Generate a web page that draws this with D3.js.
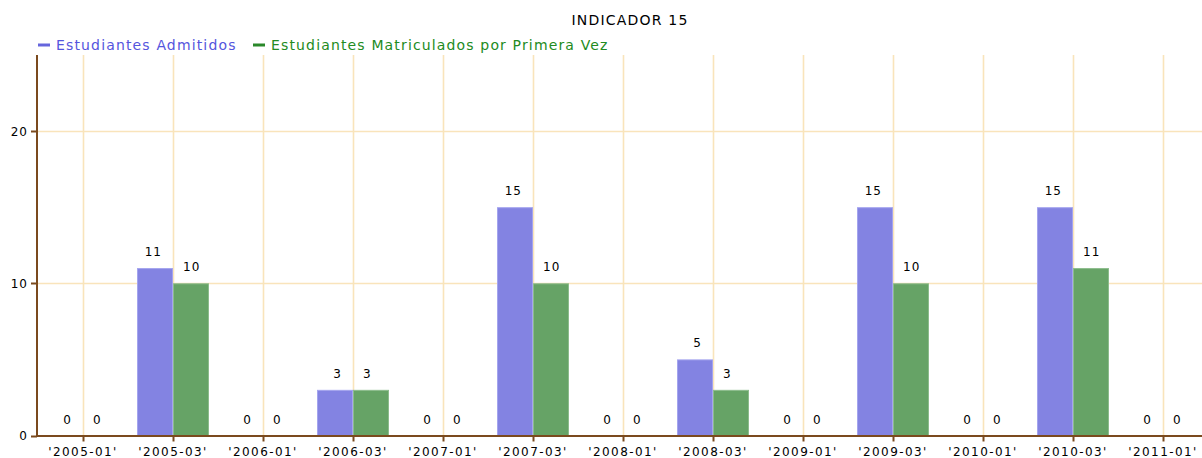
<!DOCTYPE html>
<html><head><meta charset="utf-8">
<script src="https://cdn.jsdelivr.net/npm/d3@7"></script>
<style>body{margin:0;background:#fff}svg{display:block}</style>
</head><body><svg id="c" width="1202" height="458"></svg>
<script>
const categories = ["'2005-01'","'2005-03'","'2006-01'","'2006-03'","'2007-01'","'2007-03'","'2008-01'","'2008-03'","'2009-01'","'2009-03'","'2010-01'","'2010-03'","'2011-01'"];
const admitidos = [0,11,0,3,0,15,0,5,0,15,0,15,0];
const matriculados = [0,10,0,3,0,10,0,3,0,10,0,11,0];
const seriesNames = ["Estudiantes Admitidos","Estudiantes Matriculados por Primera Vez"];
const yTicks = [0,10,20];
const title = "INDICADOR 15";

const svg = d3.select("#c");
const W = 1202, H = 458;
const mLeft = 37, mTop = 55, mBottom = 435.5;
const x = d3.scaleBand().domain(categories).range([mLeft+1, mLeft+1+90*categories.length]).paddingInner(0).paddingOuter(0);
const y = d3.scaleLinear().domain([0,25]).range([mBottom, mTop]);
const barW = 36;
const font = "'DejaVu Sans', Verdana, sans-serif";
const gridColor = "#f9e4bb";

// grid
svg.append("g").selectAll("line").data(yTicks.filter(d=>d>0)).join("line")
  .attr("x1", mLeft).attr("x2", W).attr("y1", d=>Math.round(y(d))+0.5).attr("y2", d=>Math.round(y(d))+0.5)
  .attr("stroke",gridColor).attr("stroke-width",1.6);
svg.append("g").selectAll("line").data(categories).join("line")
  .attr("x1", d=>x(d)+x.bandwidth()/2+0.5).attr("x2", d=>x(d)+x.bandwidth()/2+0.5)
  .attr("y1", mTop).attr("y2", mBottom)
  .attr("stroke",gridColor).attr("stroke-width",1.6);

// bars
const series = [
  {vals: admitidos, fill:"#8383e2", stroke:"#a4a4ee", off:-barW},
  {vals: matriculados, fill:"#66a366", stroke:"#8cbc8c", off:0}
];
series.forEach((s,si)=>{
  const g = svg.append("g");
  g.selectAll("rect").data(categories).join("rect")
    .attr("x", (d)=>x(d)+x.bandwidth()/2+s.off+0.5)
    .attr("width", barW-1)
    .attr("y", (d,i)=>y(s.vals[i])+0.5)
    .attr("height", (d,i)=>Math.max(0, mBottom-y(s.vals[i])-0.5))
    .attr("fill", s.fill)
    .attr("stroke", (d,i)=>s.vals[i]>0 ? s.stroke : "none").attr("stroke-width",1);
  g.selectAll("text").data(categories).join("text")
    .attr("x", d=> si===0 ? x(d)+x.bandwidth()/2-barW/2+7 : x(d)+x.bandwidth()/2+barW/2-8)
    .attr("y", (d,i)=>y(s.vals[i])-12)
    .attr("text-anchor", si===0 ? "end" : "start")
    .attr("font-family", font).attr("font-size", 12).attr("letter-spacing", 1).attr("fill","#000")
    .text((d,i)=>s.vals[i]);
});

// axes
const axisColor = "#7b4a1e";
svg.append("line").attr("x1", mLeft).attr("x2", mLeft).attr("y1", mTop).attr("y2", mBottom+1.5)
  .attr("stroke", axisColor).attr("stroke-width",2);
svg.append("line").attr("x1", mLeft-1).attr("x2", W).attr("y1", mBottom+0.5).attr("y2", mBottom+0.5)
  .attr("stroke", axisColor).attr("stroke-width",2);
// y ticks
const yg = svg.append("g");
yg.selectAll("line").data(yTicks).join("line")
  .attr("x1", mLeft-6).attr("x2", mLeft).attr("y1", d=>Math.round(y(d))+0.5).attr("y2", d=>Math.round(y(d))+0.5)
  .attr("stroke", axisColor).attr("stroke-width",2);
yg.selectAll("text").data(yTicks).join("text")
  .attr("x", mLeft-9).attr("y", d=>y(d)+4.5).attr("text-anchor","end")
  .attr("font-family", font).attr("font-size", 12).attr("letter-spacing", 1).attr("fill","#000").text(d=>d);
// x ticks
const xg = svg.append("g");
xg.selectAll("line").data(categories).join("line")
  .attr("x1", d=>x(d)+x.bandwidth()/2+0.5).attr("x2", d=>x(d)+x.bandwidth()/2+0.5)
  .attr("y1", mBottom).attr("y2", mBottom+6)
  .attr("stroke", axisColor).attr("stroke-width",2);
xg.selectAll("text").data(categories).join("text")
  .attr("x", d=>x(d)+x.bandwidth()/2).attr("y", mBottom+20).attr("text-anchor","middle")
  .attr("font-family", font).attr("font-size", 12).attr("letter-spacing", 1.4).attr("fill","#000").text(d=>d);

// title
svg.append("text").attr("x", 630).attr("y", 25).attr("text-anchor","middle")
  .attr("font-family", font).attr("font-size", 14).attr("letter-spacing", 1.2).attr("fill","#000").text(title);

// legend
const legColors = ["#5555dd","#228b22"];
const legX = [38, 253];
seriesNames.forEach((n,i)=>{
  svg.append("line").attr("x1", legX[i]).attr("x2", legX[i]+12).attr("y1", 45).attr("y2", 45)
    .attr("stroke", i===0?"#6666dd":"#2a882a").attr("stroke-width",3);
  svg.append("text").attr("x", legX[i]+18).attr("y", 50)
    .attr("font-family", font).attr("font-size", 14).attr("letter-spacing", 1.15).attr("fill", legColors[i]).text(n);
});
</script></body></html>
